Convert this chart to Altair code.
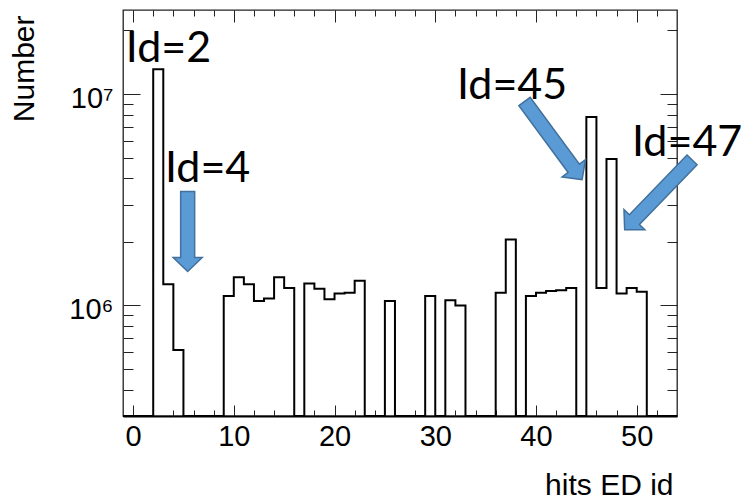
import altair as alt
import pandas as pd

# ---------------- data ----------------
bin_ids = list(range(-1, 54))  # bin k covers [k, k+1)
counts = [
    0, 0, 0, 1.31e7, 1.26e6, 6.15e5, 0, 0, 0, 0,           # -1 .. 8
    1.11e6, 1.36e6, 1.26e6, 1.05e6, 1.08e6, 1.36e6, 1.21e6,  # 9 .. 15
    0, 1.27e6, 1.20e6, 1.07e6, 1.14e6, 1.15e6, 1.31e6,       # 16 .. 22
    0, 0, 1.05e6, 0, 0, 0, 1.11e6, 0, 1.06e6, 1.00e6,       # 23 .. 32
    0, 0, 0, 1.15e6, 2.05e6, 0,                             # 33 .. 38
    1.11e6, 1.15e6, 1.17e6, 1.18e6, 1.21e6, 0,              # 39 .. 44
    7.79e6, 1.21e6, 4.93e6, 1.14e6, 1.21e6, 1.16e6,         # 45 .. 50
    0, 0, 0,                                                # 51 .. 53
]

x_major = [0, 10, 20, 30, 40, 50]
x_minor = [v for v in range(0, 54, 2) if v % 10 != 0]
y_major = [1e6, 1e7]
y_minor = [3e5, 4e5, 5e5, 6e5, 7e5, 8e5, 9e5,
           2e6, 3e6, 4e6, 5e6, 6e6, 7e6, 8e6, 9e6, 2e7]

ann_labels = ["Id=2", "Id=4", "Id=45", "Id=47"]
ann_x = [-0.72, 3.16, 32.15, 49.53]
ann_y = [1.42e7, 3.85e6, 9.51e6, 5.07e6]

arrow_x = [5.42, 41.72, 52.15]
arrow_y = [2.24e6, 6.03e6, 3.34e6]
arrow_angle = [0, 323.6, 44.0]
arrow_len = [80, 97, 97]

# ---------------- layout ----------------
W, H = 554, 406
YMIN, YMAX = 3e5, 2.5e7
FONT = "Liberation Sans, Arial, Helvetica, sans-serif"
ANN_FONT = "Lato"

xs = alt.Scale(domain=[-1, 54], nice=False, zero=False)
ys = alt.Scale(type="log", domain=[YMIN, YMAX], nice=False)

edges = bin_ids + [bin_ids[-1] + 1]
vals = counts + [counts[-1]]
hist_df = pd.DataFrame({"edge": edges, "count": vals})

base = alt.Chart(hist_df).transform_calculate(yv=f"max(datum['count'], {YMIN})")


def x_axis(orient, values, tick, labels=False, title=None, domain=False):
    kw = dict(orient=orient, values=values, tickSize={"expr": str(-tick)},
              tickColor="#222", tickWidth=1, grid=False, domain=domain,
              labels=labels)
    if labels:
        kw.update(labelFont=FONT, labelFontSize=29, labelColor="black",
                  labelPadding=tick + 6, labelFlush=False, format="d")
    if domain:
        kw.update(domainColor="black", domainWidth=2)
    if title:
        kw.update(title=title, titleFont=FONT, titleFontSize=30,
                  titleFontWeight="normal", titleColor="black",
                  titleX=W - 4, titleY=78, titleAlign="right",
                  titleBaseline="alphabetic")
    else:
        kw.update(title=None)
    return alt.Axis(**kw)


def y_axis(orient, values, tick, labels=False, title=None):
    kw = dict(orient=orient, values=values, tickSize={"expr": str(-tick)},
              tickColor="#222", tickWidth=1, grid=False, domain=False,
              labels=labels)
    if labels:
        kw.update(labelFont=FONT, labelFontSize=29, labelColor="black",
                  labelPadding=tick + 10, labelOffset=4,
                  labelExpr="datum.value >= 5e6 ? '10\u2077' : '10\u2076'")
    if title:
        kw.update(title=title, titleFont=FONT, titleFontSize=30,
                  titleFontWeight="normal", titleColor="black",
                  titleAngle=270, titleX=-90, titleY=5, titleAlign="right",
                  titleBaseline="alphabetic")
    else:
        kw.update(title=None)
    return alt.Axis(**kw)


hist = base.mark_line(interpolate="step-after", color="black",
                      strokeWidth=2).encode(
    x=alt.X("edge:Q", scale=xs,
            axis=x_axis("bottom", x_major, 11, labels=True,
                        title="hits ED id", domain=True)),
    y=alt.Y("yv:Q", scale=ys,
            axis=y_axis("left", y_major, 17, labels=True, title="Number")),
)

ghost = base.mark_line(opacity=0)
minor_bl = ghost.encode(
    x=alt.X("edge:Q", scale=xs, axis=x_axis("bottom", x_minor, 6)),
    y=alt.Y("yv:Q", scale=ys, axis=y_axis("left", y_minor, 10)),
)
major_tr = ghost.encode(
    x=alt.X("edge:Q", scale=xs, axis=x_axis("top", x_major, 12)),
    y=alt.Y("yv:Q", scale=ys, axis=y_axis("right", y_major, 17)),
)
minor_tr = ghost.encode(
    x=alt.X("edge:Q", scale=xs, axis=x_axis("top", x_minor, 6)),
    y=alt.Y("yv:Q", scale=ys, axis=y_axis("right", y_minor, 10)),
)

ann_df = pd.DataFrame({"label": ann_labels, "x": ann_x, "y": ann_y})
texts = alt.Chart(ann_df).mark_text(
    align="left", baseline="alphabetic", font=ANN_FONT, fontSize=43,
    color="black").encode(
    x=alt.X("x:Q", scale=xs, axis=None),
    y=alt.Y("y:Q", scale=ys, axis=None),
    text="label:N",
)


def arrow_path(L, shaft=7.0, head=14.5, head_len=14.0):
    s = 2.0 * shaft / L
    h = 2.0 * head / L
    b = 1.0 - 2.0 * head_len / L
    return (f"M {-s:.4f} -1 L {s:.4f} -1 L {s:.4f} {b:.4f} L {h:.4f} {b:.4f} "
            f"L 0 1 L {-h:.4f} {b:.4f} L {-s:.4f} {b:.4f} Z")


arrows = []
for ax_, ay_, ang, L in zip(arrow_x, arrow_y, arrow_angle, arrow_len):
    arrows.append(
        alt.Chart(pd.DataFrame({"x": [ax_], "y": [ay_]})).mark_point(
            shape=arrow_path(L), size=L * L, angle=ang, filled=True,
            fill="#5B9BD5", stroke="#41719C", strokeWidth=1.5, opacity=1,
            fillOpacity=1).encode(
            x=alt.X("x:Q", scale=xs, axis=None),
            y=alt.Y("y:Q", scale=ys, axis=None),
        )
    )

chart = alt.layer(hist, minor_bl, major_tr, minor_tr, texts, *arrows).resolve_axis(
    x="independent", y="independent"
).properties(
    width=W, height=H,
    autosize=alt.AutoSizeParams(type="none"),
    padding={"left": 123, "top": 10, "right": 66, "bottom": 84},
    background="white",
).configure_view(stroke="#222", strokeWidth=1.3)

chart.save("out.html", embed_options={"renderer": "svg", "actions": False})
